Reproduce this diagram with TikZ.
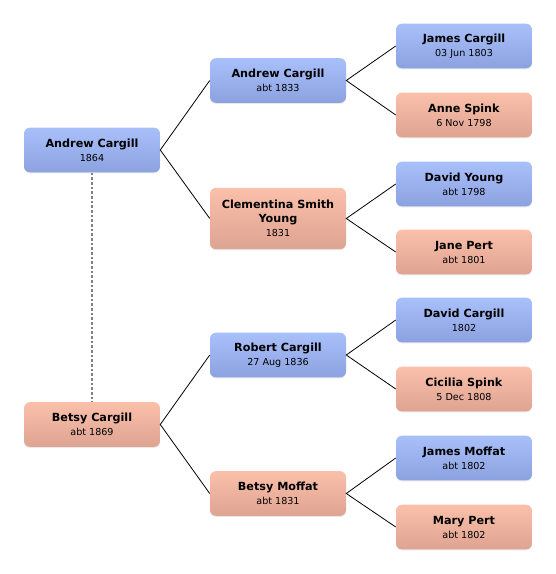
\documentclass[tikz,border=0pt]{standalone}
\usepackage{fontspec}
\setmainfont{DejaVu Sans}
\usepackage{xcolor}
\usepackage{tikz}
\usetikzlibrary{shadows}

\definecolor{maletop}{RGB}{168,192,250}
\definecolor{malebot}{RGB}{140,162,224}
\definecolor{femtop}{RGB}{250,192,170}
\definecolor{fembot}{RGB}{222,164,146}

\tikzset{
    person/.style={rectangle, rounded corners=4.5pt, minimum width=102pt,
        minimum height=33.5pt, align=center, inner sep=2pt,
        font=\fontsize{8.4}{10.5}\selectfont,
        drop shadow={shadow xshift=0pt, shadow yshift=-0.8pt, opacity=0.18}},
    male/.style={person, top color=maletop, bottom color=malebot},
    female/.style={person, top color=femtop, bottom color=fembot},
    link/.style={draw=black, line width=0.6pt},
}
\newcommand{\who}[2]{\textbf{#1}\\{\fontsize{7.2}{9}\selectfont #2}}

\begin{document}
\begin{tikzpicture}[x=0.75pt, y=-0.75pt]
    \useasboundingbox (0,0) rectangle (556,574);
    % generation 0
    \node[male] (andrew) at (92,150) {\who{Andrew Cargill}{1864}};
    \node[female] (betsy) at (92,424.5) {\who{Betsy Cargill}{abt 1869}};
    % parents
    \node[male] (andrewsr) at (278,80.5) {\who{Andrew Cargill}{abt 1833}};
    \node[female, minimum height=46pt] (clementina) at (278,218.5)
        {\textbf{Clementina Smith}\\\textbf{Young}\\{\fontsize{7.2}{9}\selectfont 1831}};
    \node[male] (robert) at (278,355) {\who{Robert Cargill}{27 Aug 1836}};
    \node[female] (betsym) at (278,493.5) {\who{Betsy Moffat}{abt 1831}};
    % grandparents
    \node[male] (james) at (464,46) {\who{James Cargill}{03 Jun 1803}};
    \node[female] (anne) at (464,115) {\who{Anne Spink}{6 Nov 1798}};
    \node[male] (davidy) at (464,184) {\who{David Young}{abt 1798}};
    \node[female] (jane) at (464,252) {\who{Jane Pert}{abt 1801}};
    \node[male] (davidc) at (464,320) {\who{David Cargill}{1802}};
    \node[female] (cicilia) at (464,389) {\who{Cicilia Spink}{5 Dec 1808}};
    \node[male] (jamesm) at (464,458) {\who{James Moffat}{abt 1802}};
    \node[female] (mary) at (464,527) {\who{Mary Pert}{abt 1802}};

    \draw[gray, line width=0.9pt, dash pattern=on 2pt off 1.5pt] (andrew.south) -- (betsy.north);
    \foreach \kid/\dad/\mum in {andrew/andrewsr/clementina, betsy/robert/betsym,
        andrewsr/james/anne, clementina/davidy/jane, robert/davidc/cicilia, betsym/jamesm/mary} {
        \draw[link] (\dad.west) -- (\kid.east) -- (\mum.west);
    }
\end{tikzpicture}
\end{document}
